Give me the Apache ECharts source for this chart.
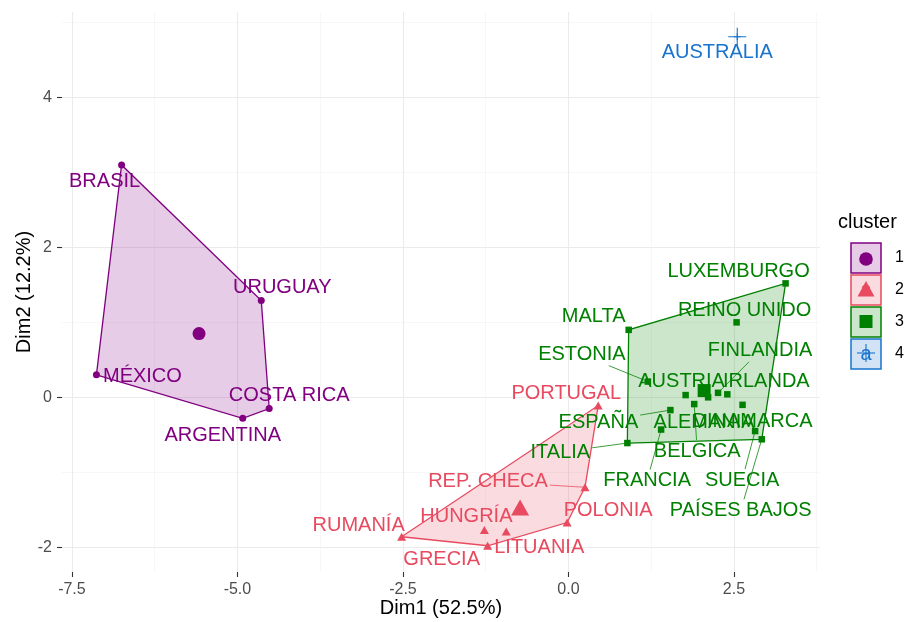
<!DOCTYPE html>
<html><head><meta charset="utf-8">
<script src="https://cdn.jsdelivr.net/npm/echarts@6/dist/echarts.min.js"></script>
<style>html,body{margin:0;padding:0;background:#fff}#c{width:913px;height:622px}</style>
</head><body><div id="c"></div>
<script>
// ---------------- DATA ----------------
const names1 = ['BRASIL','URUGUAY','MÉXICO','COSTA RICA','ARGENTINA'];
const dim1_c1 = [-6.75,-4.64,-7.13,-4.52,-4.92];
const dim2_c1 = [3.10,1.29,0.30,-0.15,-0.28];

const names2 = ['PORTUGAL','REP. CHECA','POLONIA','LITUANIA','RUMANÍA','HUNGRÍA','GRECIA'];
const dim1_c2 = [0.45,0.25,-0.02,-0.94,-2.52,-1.27,-1.22];
const dim2_c2 = [-0.11,-1.20,-1.67,-1.79,-1.86,-1.77,-1.98];

const names3 = ['LUXEMBURGO','REINO UNIDO','MALTA','ESTONIA','FINLANDIA','AUSTRIA','IRLANDA','ESPAÑA','ALEMANIA','DINAMARCA','ITALIA','BELGICA','FRANCIA','SUECIA','PAÍSES BAJOS'];
const dim1_c3 = [3.28,2.54,0.91,1.20,2.26,1.77,2.40,1.54,2.11,2.63,0.89,1.90,1.40,2.82,2.92];
const dim2_c3 = [1.52,1.00,0.90,0.21,0.06,0.03,0.04,-0.17,0.00,-0.10,-0.61,-0.09,-0.43,-0.45,-0.56];

const names4 = ['AUSTRALIA'];
const dim1_c4 = [2.55];
const dim2_c4 = [4.81];

const centerDim1 = [-5.58,-0.73,2.05,2.55];
const centerDim2 = [0.85,-1.47,0.09,4.81];

const clusterNames = ['1','2','3','4'];
const xTicks = [-7.5,-5,-2.5,0,2.5];
const xTickLabels = ['-7.5','-5.0','-2.5','0.0','2.5'];
const yTicks = [-2,0,2,4];
const yTickLabels = ['-2','0','2','4'];
const xMinor = [-6.25,-3.75,-1.25,1.25,3.75];
const yMinor = [-1,1,3,5];
const xTitle = 'Dim1 (52.5%)';
const yTitle = 'Dim2 (12.2%)';
const legendTitle = 'cluster';

// ---------------- LAYOUT (label offsets in px, repel-like) ----------------
const labelOffsets = {
  'BRASIL':[-17,17],'URUGUAY':[21,-13],'MÉXICO':[46,2],'COSTA RICA':[20,-13],'ARGENTINA':[-20,17],
  'AUSTRALIA':[-20,16],
  'PORTUGAL':[-32,-12],'REP. CHECA':[-97,-6],'POLONIA':[41,-12],'LITUANIA':[33,16],'RUMANÍA':[-43,-11],'HUNGRÍA':[-18,-14],'GRECIA':[-46,14],
  'LUXEMBURGO':[-47,-12],'REINO UNIDO':[8,-12],'MALTA':[-35,-13],'ESTONIA':[-66,-27],'FINLANDIA':[42,-42],'AUSTRIA':[-4,-14],'IRLANDA':[39,-13],
  'ESPAÑA':[-72,12],'ALEMANIA':[-4,25],'DINAMARCA':[10,17],'ITALIA':[-67,9],'BELGICA':[3,47],'FRANCIA':[-14,51],'SUECIA':[-13,49],'PAÍSES BAJOS':[-21,71]
};
const withLeader = ['REP. CHECA','ESTONIA','FINLANDIA','ESPAÑA','ITALIA','BELGICA','FRANCIA','SUECIA','PAÍSES BAJOS'];

const FONT = '"Liberation Sans", Arial, Helvetica, sans-serif';
const COLORS = ['#800080','#E84A5F','#008000','#1874CD'];
const LABEL_SIZE = 20;

function rgba(hex, a){const n=parseInt(hex.slice(1),16);return `rgba(${n>>16},${(n>>8)&255},${n&255},${a})`;}

const PLUS_BIG = 'path://M-0.06,-1H0.06V-0.06H1V0.06H0.06V1H-0.06V0.06H-1V-0.06H-0.06Z';
const PLUS_SMALL = 'path://M-0.15,-1H0.15V-0.15H1V0.15H0.15V1H-0.15V0.15H-1V-0.15H-0.15Z';

const clusters = [
  {names:names1, xs:dim1_c1, ys:dim2_c1, symbol:'circle', size:7, csize:13},
  {names:names2, xs:dim1_c2, ys:dim2_c2, symbol:'triangle', size:[9,8], csize:[18,16]},
  {names:names3, xs:dim1_c3, ys:dim2_c3, symbol:'rect', size:6.5, csize:13},
  {names:names4, xs:dim1_c4, ys:dim2_c4, symbol:PLUS_SMALL, size:7, csize:18, csymbol:PLUS_BIG}
];

function convexHull(points){
  const p = points.slice().sort((a,b)=>a[0]-b[0]||a[1]-b[1]);
  if (p.length < 3) return p;
  const cross=(o,a,b)=>(a[0]-o[0])*(b[1]-o[1])-(a[1]-o[1])*(b[0]-o[0]);
  const lower=[];for(const q of p){while(lower.length>=2&&cross(lower[lower.length-2],lower[lower.length-1],q)<=0)lower.pop();lower.push(q);}
  const upper=[];for(let i=p.length-1;i>=0;i--){const q=p[i];while(upper.length>=2&&cross(upper[upper.length-2],upper[upper.length-1],q)<=0)upper.pop();upper.push(q);}
  upper.pop();lower.pop();return lower.concat(upper);
}

const measureCtx = document.createElement('canvas').getContext('2d');
measureCtx.font = LABEL_SIZE + 'px ' + FONT;

const series = [];
clusters.forEach((c, k) => {
  const color = COLORS[k];
  const pts = c.xs.map((x,i)=>[x, c.ys[i]]);
  const hull = convexHull(pts);
  if (hull.length >= 3) {
    series.push({
      type:'custom', silent:true, z:1, clip:false,
      data: hull,
      renderItem(params, api){
        if (params.dataIndex !== 0) return;
        const points = hull.map(h => api.coord(h));
        return {type:'polygon', shape:{points}, style:{fill:rgba(color,0.2), stroke:color, lineWidth:1.3}};
      }
    });
  }
  // leader segments
  const lead = c.names.map((n,i)=>({n, v:[c.xs[i], c.ys[i]]})).filter(d => withLeader.includes(d.n));
  if (lead.length) {
    series.push({
      type:'custom', silent:true, z:2,
      data: lead.map(d => d.v),
      renderItem(params, api){
        const name = lead[params.dataIndex].n;
        const p = api.coord([api.value(0), api.value(1)]);
        const o = labelOffsets[name];
        const w = measureCtx.measureText(name).width/2 + 2, h = 11;
        const ax = Math.abs(o[0]), ay = Math.abs(o[1]);
        const s = Math.min(ax>0 ? w/ax : Infinity, ay>0 ? h/ay : Infinity);
        const t = 1 - s;
        if (t <= 0) return;
        return {type:'line', shape:{x1:p[0], y1:p[1], x2:p[0]+o[0]*t, y2:p[1]+o[1]*t}, style:{stroke:color, lineWidth:0.9, opacity:0.85}};
      }
    });
  }
  // points with labels
  series.push({
    type:'scatter', z:3, symbol:c.symbol, symbolSize:c.size,
    itemStyle:{color:color, opacity:1},
    data: c.names.map((n,i)=>({name:n, value:[c.xs[i], c.ys[i]]})),
    label:{show:true, position:'inside', formatter:'{b}', color:color, fontSize:LABEL_SIZE, fontFamily:FONT, textBorderWidth:0},
    labelLayout: (p) => { const o = labelOffsets[c.names[p.dataIndex]] || [0,0]; return {dx:o[0], dy:o[1]}; },
    emphasis:{disabled:true}
  });
  // center
  series.push({
    type:'scatter', z:4, symbol:c.csymbol || c.symbol, symbolSize:c.csize,
    itemStyle:{color:color, opacity:1},
    data:[[centerDim1[k], centerDim2[k]]],
    emphasis:{disabled:true}
  });
});

// legend graphics
const graphic = [];
const LX = 851, LY0 = 243, KS = 30, KG = 32;
graphic.push({type:'text', x:838, y:LY0-21, style:{text:legendTitle, fill:'#000', font:'20px ' + FONT, align:'left', verticalAlign:'middle'}});
clusters.forEach((c,k)=>{
  const color = COLORS[k];
  const y = LY0 + KG*k, cx = LX + KS/2, cy = y + KS/2;
  graphic.push({type:'rect', shape:{x:LX, y:y, width:KS, height:KS}, style:{fill:rgba(color,0.2), stroke:color, lineWidth:1.5}});
  graphic.push({type:'text', x:cx, y:cy+0.5, style:{text:'a', fill:color, font:'20px ' + FONT, align:'center', verticalAlign:'middle'}});
  if (k===0) graphic.push({type:'circle', shape:{cx:cx, cy:cy+1, r:6.8}, style:{fill:color}});
  if (k===1) graphic.push({type:'polygon', shape:{points:[[cx,cy-9],[cx+8.5,cy+6.5],[cx-8.5,cy+6.5]]}, style:{fill:color}});
  if (k===2) graphic.push({type:'rect', shape:{x:cx-6.5, y:cy-7, width:13, height:13}, style:{fill:color}});
  if (k===3) {
    graphic.push({type:'line', shape:{x1:cx-9, y1:cy-1, x2:cx+9, y2:cy-1}, style:{stroke:color, lineWidth:1.1}});
    graphic.push({type:'line', shape:{x1:cx, y1:cy-10, x2:cx, y2:cy+8}, style:{stroke:color, lineWidth:1.1}});
  }
  graphic.push({type:'text', x:895, y:cy, style:{text:clusterNames[k], fill:'#000', font:'16px ' + FONT, align:'left', verticalAlign:'middle'}});
});

const tickStyle = {color:'#333333', width:1.1};
const majorGrid = {show:true, lineStyle:{color:'#EBEBEB', width:1.1}};
const minorGrid = {show:true, lineStyle:{color:'#F2F2F2', width:0.6}};
const XMIN=-7.65, XMAX=3.80, YMIN=-2.33, YMAX=5.14;

const option = {
  animation:false,
  backgroundColor:'#ffffff',
  grid:{left:62, right:93, top:12, bottom:50, containLabel:false, outerBoundsMode:'none'},
  xAxis:[
    {type:'value', min:XMIN, max:XMAX, position:'bottom',
     axisLine:{show:false, onZero:false},
     axisTick:{show:true, length:5, lineStyle:tickStyle, customValues:xTicks},
     axisLabel:{customValues:xTicks, formatter:(v)=>{const i=xTicks.findIndex(t=>Math.abs(t-v)<1e-9);return i>=0?xTickLabels[i]:'';}, color:'#4D4D4D', fontSize:16, fontFamily:FONT, margin:10},
     splitLine:majorGrid,
     name:xTitle, nameLocation:'middle', nameGap:26, nameMoveOverlap:false, nameTextStyle:{color:'#000', fontSize:20, fontFamily:FONT}},
    {type:'value', min:XMIN, max:XMAX, position:'bottom',
     axisLine:{show:false, onZero:false},
     axisTick:{show:false, customValues:xMinor},
     axisLabel:{show:false, customValues:xMinor},
     splitLine:minorGrid}
  ],
  yAxis:[
    {type:'value', min:YMIN, max:YMAX, position:'left',
     axisLine:{show:false, onZero:false},
     axisTick:{show:true, length:5, lineStyle:tickStyle, customValues:yTicks},
     axisLabel:{customValues:yTicks, formatter:(v)=>{const i=yTicks.findIndex(t=>Math.abs(t-v)<1e-9);return i>=0?yTickLabels[i]:'';}, color:'#4D4D4D', fontSize:16, fontFamily:FONT, margin:10},
     splitLine:majorGrid,
     name:yTitle, nameLocation:'middle', nameGap:28, nameRotate:90, nameMoveOverlap:false, nameTextStyle:{color:'#000', fontSize:20, fontFamily:FONT}},
    {type:'value', min:YMIN, max:YMAX, position:'left',
     axisLine:{show:false, onZero:false},
     axisTick:{show:false, customValues:yMinor},
     axisLabel:{show:false, customValues:yMinor},
     splitLine:minorGrid}
  ],
  series: series,
  graphic: graphic
};

const chart = echarts.init(document.getElementById('c'), null, {renderer:'canvas'});
chart.setOption(option);
</script>
</body></html>
